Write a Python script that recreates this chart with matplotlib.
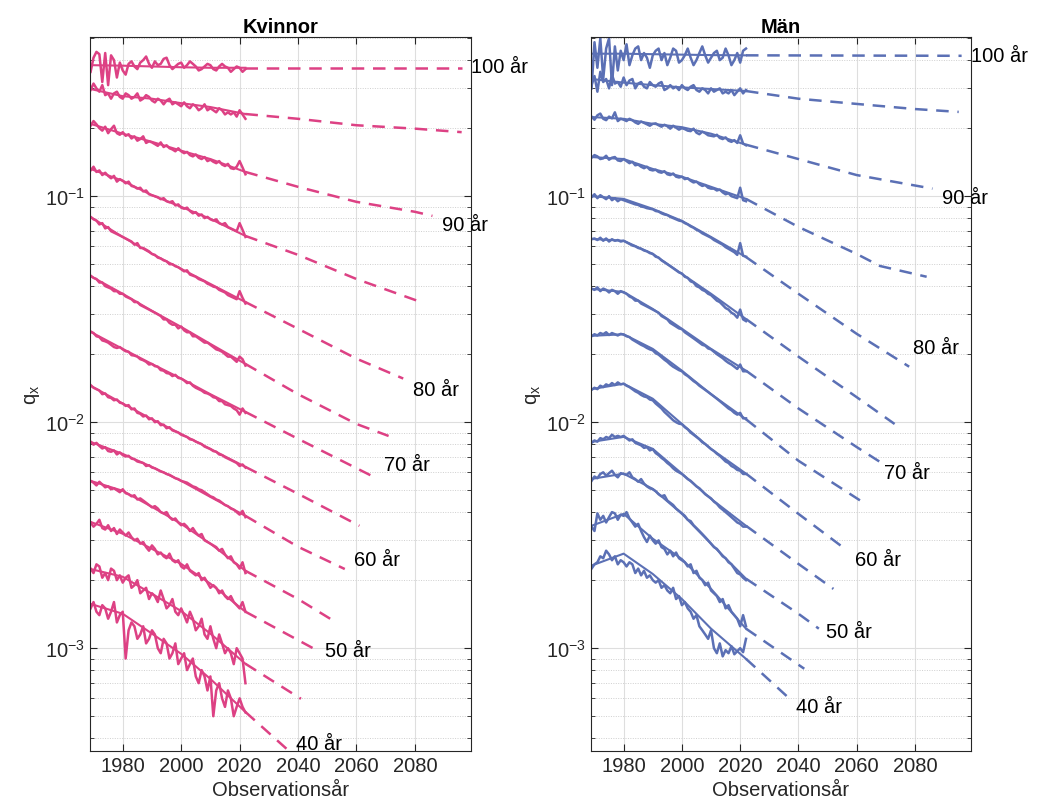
import numpy as np
import matplotlib
matplotlib.use("Agg")
import matplotlib.pyplot as plt

plt.rcParams["font.family"] = ["Liberation Sans", "DejaVu Sans"]
plt.rcParams["mathtext.fontset"] = "custom"
plt.rcParams["mathtext.rm"] = "Liberation Sans"
plt.rcParams["mathtext.it"] = "Liberation Sans"

PINK, BLUE = "#DD4184", "#5B70B5"
AX_COL = "#262626"

AGES = [100, 95, 90, 85, 80, 75, 70, 65, 60, 55, 50, 45, 40]
OBS_YEARS = list(range(1969, 2023))
FIT_YEARS = [1969, 1980, 1990, 2000, 2010, 2022]
LABEL_AGES = [100, 90, 80, 70, 60, 50, 40]

# ---- Kvinnor: observed q_x (per 100 000), 1969-2022
kv_obs = [
    [35500, 41000, 43500, 42500, 32000, 43000, 31000, 42000, 40000, 33500, 39000, 36000,
     34500, 38500, 39500, 37500, 36500, 39000, 40000, 41500, 38500, 37000,
     39500, 38000, 38500, 40500, 41000, 38000, 36500, 37500, 38500, 39000,
     37000, 38000, 39500, 38500, 37500, 36000, 36500, 37500, 38500, 38000,
     36500, 36000, 37500, 38500, 37500, 37000, 35500, 36500, 37500, 37000, 35500, 36500],
    [29500, 31500, 30000, 29000, 31000, 28000, 28500, 27000, 28500, 29000, 27500, 27000,
     28500, 28000, 27000, 27500, 28500, 26500, 27000, 28000, 27500, 26500,
     26000, 27000, 26500, 25500, 26500, 27000, 25500, 26000, 25500, 25000,
     26000, 25000, 24500, 25500, 25000, 24000, 24500, 25500, 24000, 24500,
     24000, 23500, 24500, 24000, 23000, 23500, 23000, 23500, 22500, 24000, 23000, 22000],
    [20500, 21500, 20800, 20000, 19500, 20300, 19000, 19800, 20500, 19000, 18700, 19200,
     18500, 18800, 18000, 18400, 17600, 17900, 18400, 17200, 17500, 17300,
     17000, 16700, 17300, 16500, 16800, 16300, 16100, 15800, 16300, 15800,
     15500, 15700, 15200, 15000, 15300, 14800, 14600, 14900, 14300, 14500,
     14200, 14000, 14300, 13800, 13600, 13900, 13300, 13200, 13500, 14300, 13400, 12500],
    [13000, 13500, 12800, 13000, 12400, 12700, 12300, 12000, 12300, 11600, 11900, 11700,
     11400, 11600, 11100, 11000, 10800, 10900, 10500, 10600, 10200, 10100,
     10000, 9900, 9700, 9800, 9500, 9400, 9500, 9100, 9200, 8900,
     8800, 8900, 8600, 8400, 8500, 8200, 8300, 8000, 8100, 7900,
     7800, 7900, 7600, 7500, 7600, 7300, 7200, 7100, 7000, 7600, 7100, 6600],
    [8100, 7900, 7800, 7500, 7600, 7200, 7300, 7000, 6900, 6800, 6700, 6600,
     6500, 6400, 6300, 6100, 6200, 5900, 5900, 5800, 5700, 5550,
     5500, 5350, 5300, 5200, 5150, 5000, 5000, 4900, 4850, 4750,
     4650, 4700, 4500, 4450, 4400, 4300, 4250, 4200, 4100, 4050,
     3980, 3950, 3850, 3800, 3750, 3650, 3600, 3550, 3500, 3800, 3550, 3350],
    [4450, 4350, 4300, 4150, 4150, 4000, 3950, 3900, 3800, 3800, 3700, 3700,
     3600, 3550, 3500, 3400, 3400, 3300, 3250, 3200, 3150, 3100,
     3050, 3000, 2950, 2850, 2850, 2750, 2700, 2700, 2600, 2650,
     2550, 2500, 2500, 2400, 2400, 2350, 2300, 2250, 2250, 2200,
     2150, 2100, 2080, 2050, 2000, 1950, 1950, 1900, 1850, 1950, 1900, 1780],
    [2520, 2480, 2400, 2380, 2300, 2280, 2250, 2200, 2150, 2130, 2150, 2100,
     2060, 2050, 1980, 1970, 1950, 1900, 1880, 1850, 1800, 1810,
     1770, 1760, 1700, 1690, 1650, 1640, 1600, 1620, 1570, 1560,
     1530, 1490, 1500, 1450, 1420, 1400, 1380, 1350, 1340, 1320,
     1290, 1280, 1240, 1240, 1200, 1190, 1180, 1150, 1130, 1080, 1150, 1100],
    [1460, 1420, 1400, 1380, 1330, 1340, 1290, 1280, 1250, 1260, 1220, 1210,
     1180, 1190, 1140, 1150, 1100, 1090, 1060, 1070, 1030, 1040,
     1000, 1010, 970, 975, 940, 950, 920, 910, 900, 880,
     870, 860, 840, 835, 820, 810, 800, 780, 770, 760,
     745, 740, 720, 715, 700, 690, 680, 670, 660, 640, 650, 630],
    [820, 795, 810, 785, 765, 775, 745, 740, 750, 720, 735, 715,
     705, 710, 690, 685, 670, 665, 660, 640, 645, 630,
     625, 615, 605, 600, 590, 585, 575, 565, 560, 550,
     545, 540, 530, 520, 515, 505, 500, 490, 480, 470,
     465, 455, 450, 440, 430, 425, 415, 410, 400, 390, 405, 380],
    [550, 540, 525, 545, 530, 515, 520, 505, 510, 500, 490, 505,
     485, 480, 470, 475, 455, 460, 450, 440, 430, 420,
     425, 415, 400, 395, 400, 380, 370, 375, 360, 350,
     355, 345, 330, 340, 325, 315, 320, 300, 295, 290,
     285, 280, 270, 275, 260, 250, 255, 240, 235, 225, 240, 215],
    [360, 345, 355, 370, 340, 335, 350, 330, 340, 320, 335, 325,
     315, 325, 310, 300, 305, 290, 295, 280, 270, 285,
     275, 260, 265, 255, 250, 262, 245, 240, 245, 230,
     225, 235, 220, 215, 210, 215, 200, 205, 195, 185,
     190, 185, 175, 180, 170, 165, 170, 160, 155, 150, 160, 145],
    [225, 215, 235, 230, 205, 215, 200, 225, 220, 200, 210, 195,
     205, 210, 185, 190, 200, 175, 180, 185, 165, 175,
     170, 160, 180, 165, 150, 155, 165, 145, 140, 150,
     140, 130, 145, 135, 120, 125, 135, 115, 110, 125,
     110, 100, 115, 105, 95, 100, 95, 85, 100, 95, 90, 70],
    [150, 160, 145, 140, 155, 150, 135, 145, 160, 130, 140, 145,
     90, 120, 130, 125, 110, 115, 125, 105, 110, 120,
     115, 100, 95, 110, 105, 90, 95, 105, 85, 90,
     95, 80, 85, 90, 75, 70, 80, 75, 65, 75,
     50, 65, 70, 60, 55, 65, 60, 50, 55, 60, 55, 52],
]
kv_fit = [
    [0.380, 0.378, 0.375, 0.372, 0.370, 0.370],
    [0.298, 0.277, 0.270, 0.258, 0.248, 0.231],
    [0.209, 0.189, 0.174, 0.159, 0.146, 0.128],
    [0.132, 0.117, 0.101, 0.0897, 0.0794, 0.0667],
    [0.0809, 0.0660, 0.0556, 0.0477, 0.0409, 0.0340],
    [0.0443, 0.0370, 0.0311, 0.0264, 0.0222, 0.0181],
    [0.0251, 0.0211, 0.0181, 0.0156, 0.0133, 0.0111],
    [0.0145, 0.0121, 0.0103, 0.00887, 0.00762, 0.00634],
    [0.00818, 0.00724, 0.00634, 0.00550, 0.00467, 0.00385],
    [0.00550, 0.00497, 0.00422, 0.00355, 0.00290, 0.00220],
    [0.00362, 0.00321, 0.00275, 0.00236, 0.00193, 0.00145],
    [0.00224, 0.00207, 0.00174, 0.00146, 0.00116, 0.000853],
    [0.00157, 0.00142, 0.00116, 0.000944, 0.000731, 0.000522],
]
kv_proj_years = [
    [2022, 2096], [2022, 2040, 2060, 2080, 2096], [2022, 2040, 2060, 2080, 2086],
    [2022, 2040, 2060, 2081], [2022, 2040, 2060, 2076], [2022, 2040, 2060, 2071],
    [2022, 2040, 2066], [2022, 2040, 2061], [2022, 2040, 2056], [2022, 2040, 2051],
    [2022, 2046], [2022, 2041], [2022, 2037],
]
kv_proj = [
    [0.370, 0.370], [0.231, 0.220, 0.206, 0.199, 0.192], [0.128, 0.110, 0.0944, 0.0853, 0.0818],
    [0.0667, 0.0550, 0.0430, 0.0344], [0.0340, 0.0259, 0.0191, 0.0156], [0.0181, 0.0133, 0.00982, 0.00869],
    [0.0111, 0.00844, 0.00572], [0.00634, 0.00482, 0.00348], [0.00385, 0.00281, 0.00224],
    [0.00220, 0.00165, 0.00135], [0.00145, 0.000986], [0.000853, 0.000597], [0.000522, 0.00035],
]
kv_label_q = [0.373, 0.0746, 0.0140, 0.00647, 0.00248, 0.000972, 0.000378]

# ---- Män: observed q_x (per 100 000), 1969-2022
man_obs = [
    [30000, 48000, 37000, 50000, 33000, 45000, 50000, 31000, 46000, 36000, 44000, 40000,
     47000, 38000, 42000, 45000, 46000, 40000, 43000, 41000, 37000, 42000,
     44000, 45000, 40000, 43000, 38000, 41000, 45000, 44000, 39000, 40000,
     42000, 45000, 41000, 38000, 40000, 43000, 46000, 42000, 39000, 41000,
     43000, 44000, 40000, 41000, 45000, 42000, 38000, 40000, 43000, 39000, 44000, 45000],
    [31000, 34000, 29000, 35500, 32000, 33000, 30000, 34500, 31500, 32000, 30500, 33500,
     31000, 32500, 33000, 30000, 31500, 32000, 30500, 30000, 32000, 31000,
     30500, 31500, 32000, 29500, 30000, 31000, 30000, 30500, 29500, 31000,
     30000, 29500, 30500, 31000, 29500, 29000, 30000, 29500, 28500, 30000,
     29000, 29500, 30000, 28500, 29000, 28500, 29500, 28000, 29000, 30000, 28500, 29500],
    [22500, 21800, 22800, 23200, 22000, 21700, 22500, 22100, 23500, 21500, 22000, 21800,
     21500, 22000, 21700, 21200, 20900, 21400, 21100, 20800, 20500, 20900,
     21000, 20600, 20300, 20700, 20400, 19900, 20500, 20100, 19700, 20000,
     19800, 19500, 19400, 19900, 19100, 18800, 19300, 19000, 18600, 18500,
     18400, 18700, 18100, 17900, 18200, 17600, 17400, 17700, 17200, 18600, 17100, 16800],
    [14800, 15200, 15000, 14600, 14700, 15100, 14500, 14800, 14900, 14400, 14300, 14600,
     14300, 14000, 14200, 13700, 13800, 13500, 13300, 13500, 13100, 13000,
     13100, 12800, 12700, 12900, 12500, 12400, 12600, 12200, 12100, 12200,
     11900, 12000, 11700, 11500, 11600, 11300, 11100, 11200, 10900, 10800,
     10800, 10600, 10700, 10400, 10200, 10300, 10000, 9900, 9800, 10900, 9600, 9500],
    [9900, 10200, 9800, 10100, 9900, 9700, 10000, 9600, 9800, 9500, 9700, 9600,
     9500, 9400, 9300, 9200, 9150, 9000, 8950, 8850, 8800, 8750,
     8600, 8550, 8400, 8300, 8250, 8100, 8000, 7900, 7800, 7750,
     7600, 7500, 7350, 7250, 7100, 7000, 6850, 6750, 6650, 6550,
     6400, 6300, 6200, 6100, 5950, 5850, 5750, 5650, 5500, 6200, 5450, 5400],
    [6450, 6500, 6400, 6550, 6350, 6500, 6300, 6450, 6350, 6400, 6300, 6350,
     6250, 6150, 6050, 6000, 5900, 5850, 5750, 5700, 5600, 5550,
     5400, 5350, 5200, 5100, 5000, 4900, 4800, 4700, 4600, 4550,
     4400, 4350, 4200, 4150, 4000, 3950, 3850, 3800, 3700, 3650,
     3550, 3450, 3400, 3300, 3200, 3150, 3050, 3000, 2900, 3150, 2850, 2800],
    [3900, 3850, 3950, 3800, 3900, 3850, 3750, 3850, 3800, 3700, 3800, 3750,
     3700, 3600, 3550, 3450, 3450, 3350, 3300, 3250, 3200, 3150,
     3100, 3050, 2950, 2900, 2850, 2750, 2700, 2650, 2600, 2580,
     2500, 2450, 2400, 2350, 2300, 2250, 2200, 2180, 2120, 2100,
     2050, 2000, 1960, 1920, 1870, 1830, 1800, 1760, 1720, 1800, 1680, 1680],
    [2400, 2450, 2420, 2480, 2450, 2500, 2430, 2480, 2450, 2420, 2460, 2440,
     2400, 2380, 2320, 2280, 2240, 2200, 2170, 2130, 2100, 2080,
     2020, 1990, 1940, 1890, 1850, 1800, 1760, 1730, 1700, 1680,
     1630, 1600, 1560, 1520, 1490, 1450, 1420, 1390, 1360, 1330,
     1300, 1270, 1240, 1210, 1180, 1150, 1130, 1100, 1080, 1100, 1040, 1040],
    [1390, 1420, 1400, 1450, 1430, 1470, 1450, 1490, 1460, 1500, 1470, 1480,
     1450, 1430, 1400, 1370, 1350, 1320, 1300, 1290, 1260, 1250,
     1210, 1180, 1150, 1110, 1080, 1050, 1020, 1000, 985, 980,
     950, 930, 900, 880, 860, 840, 815, 800, 780, 760,
     745, 725, 710, 690, 670, 660, 640, 630, 615, 610, 590, 590],
    [810, 830, 820, 850, 840, 860, 850, 880, 860, 870, 860, 870,
     850, 830, 840, 810, 800, 790, 770, 775, 750, 760,
     730, 715, 695, 680, 660, 645, 625, 610, 600, 590,
     575, 560, 550, 535, 520, 510, 495, 480, 470, 460,
     445, 435, 420, 410, 400, 390, 380, 370, 360, 355, 345, 345],
    [550, 575, 565, 590, 600, 580, 595, 610, 585, 570, 595, 590,
     585, 600, 570, 560, 545, 560, 535, 520, 510, 505,
     495, 480, 470, 475, 450, 440, 430, 415, 405, 395,
     385, 370, 365, 350, 340, 330, 320, 310, 300, 290,
     280, 275, 265, 255, 250, 240, 235, 225, 215, 212, 205, 200],
    [345, 330, 395, 370, 385, 360, 380, 400, 395, 370, 390, 385,
     400, 375, 360, 345, 355, 330, 310, 295, 315, 300,
     290, 300, 280, 275, 260, 270, 255, 265, 250, 245,
     240, 230, 235, 215, 220, 205, 200, 190, 195, 180,
     175, 170, 160, 165, 150, 155, 145, 140, 135, 125, 140, 125],
    [225, 235, 240, 255, 250, 270, 260, 245, 255, 235, 245, 240,
     230, 240, 235, 215, 225, 210, 220, 205, 210, 200,
     195, 200, 185, 190, 180, 175, 185, 165, 170, 155,
     160, 150, 145, 135, 140, 125, 120, 115, 110, 120,
     100, 95, 105, 92, 98, 95, 102, 94, 97, 100, 96, 110],
]
man_fit = [
    [0.427, 0.427, 0.425, 0.423, 0.421, 0.420],
    [0.330, 0.318, 0.310, 0.303, 0.298, 0.292],
    [0.224, 0.220, 0.209, 0.202, 0.189, 0.169],
    [0.149, 0.146, 0.132, 0.122, 0.110, 0.0973],
    [0.100, 0.0973, 0.0879, 0.0778, 0.0660, 0.0538],
    [0.0647, 0.0635, 0.0556, 0.0453, 0.0370, 0.0286],
    [0.0389, 0.0377, 0.0317, 0.0259, 0.0211, 0.0169],
    [0.0241, 0.0245, 0.0211, 0.0169, 0.0133, 0.0103],
    [0.0140, 0.0148, 0.0127, 0.00982, 0.00762, 0.00592],
    [0.00818, 0.00861, 0.00762, 0.00592, 0.00458, 0.00348],
    [0.00561, 0.00592, 0.00507, 0.00393, 0.00290, 0.00203],
    [0.00348, 0.00393, 0.00305, 0.00248, 0.00183, 0.00122],
    [0.00232, 0.00262, 0.00213, 0.00165, 0.00122, 0.000897],
]
man_proj_years = [
    [2022, 2096], [2022, 2040, 2060, 2080, 2095], [2022, 2040, 2060, 2086],
    [2022, 2040, 2060, 2068, 2084], [2022, 2040, 2060, 2078], [2022, 2040, 2060, 2073],
    [2022, 2040, 2060, 2068], [2022, 2040, 2063], [2022, 2040, 2056], [2022, 2040, 2052],
    [2022, 2040, 2047], [2022, 2042], [2022, 2037],
]
man_proj = [
    [0.420, 0.418], [0.292, 0.270, 0.256, 0.243, 0.236], [0.169, 0.146, 0.124, 0.108],
    [0.0973, 0.0731, 0.0555, 0.0491, 0.0440], [0.0538, 0.0370, 0.0246, 0.0176],
    [0.0286, 0.0195, 0.0129, 0.00982], [0.0169, 0.0115, 0.00776, 0.00667],
    [0.0103, 0.00675, 0.00435], [0.00592, 0.00393, 0.00275], [0.00348, 0.00236, 0.00183],
    [0.00203, 0.00142, 0.00122], [0.00122, 0.000811], [0.000897, 0.000597],
]
man_label_q = [0.418, 0.0982, 0.0215, 0.00597, 0.00246, 0.00118, 0.000551]


def panel(ax, obs, fit, pyears, proj, label_q, color, title):
    for o, f, py, p in zip(obs, fit, pyears, proj):
        ax.plot(OBS_YEARS, np.array(o) / 1e5, color=color, lw=1.8)
        ax.plot(FIT_YEARS, f, color=color, lw=1.5)
        ax.plot(py, p, color=color, lw=1.8, ls=(0, (5, 3.5)))
    for age, q in zip(LABEL_AGES, label_q):
        ax.text(age + 1999.3, q, f"{age} år", fontsize=14.5, ha="left", va="center",
                color="black", clip_on=False)
    ax.set_yscale("log")
    ax.set_xlim(1968.8, 2099.2)
    ax.set_ylim(3.52e-4, 0.505)
    ax.set_xticks([1980, 2000, 2020, 2040, 2060, 2080])
    ax.set_yticks([1e-3, 1e-2, 1e-1])
    ax.set_yticklabels([r"$10^{-3}$", r"$10^{-2}$", r"$10^{-1}$"])
    ax.grid(which="major", color="#dedede", lw=0.8)
    ax.grid(which="minor", axis="y", color="#cfcfcf", lw=0.7, ls=(0, (1, 1.5)))
    ax.set_axisbelow(True)
    ax.tick_params(which="both", direction="in", top=True, right=True,
                   colors=AX_COL, labelsize=14.5)
    ax.tick_params(which="major", length=5, width=0.8)
    ax.tick_params(which="minor", length=3, width=0.6)
    ax.tick_params(axis="x", which="minor", top=False, bottom=False)
    for s in ax.spines.values():
        s.set_color(AX_COL)
        s.set_linewidth(0.8)
    ax.set_title(title, fontsize=14.5, fontweight="bold", pad=4)
    ax.set_xlabel("Observationsår", fontsize=14.5, color=AX_COL, labelpad=4)
    ax.set_ylabel(r"q$_\mathregular{x}$", fontsize=14.5, color=AX_COL, labelpad=2)


fig = plt.figure(figsize=(10.37, 8.12), dpi=100)
ax1 = fig.add_axes([0.0868, 0.0743, 0.3674, 0.8786])
ax2 = fig.add_axes([0.5699, 0.0743, 0.3664, 0.8786])
panel(ax1, kv_obs, kv_fit, kv_proj_years, kv_proj, kv_label_q, PINK, "Kvinnor")
panel(ax2, man_obs, man_fit, man_proj_years, man_proj, man_label_q, BLUE, "Män")
fig.savefig("out.png", dpi=100)
